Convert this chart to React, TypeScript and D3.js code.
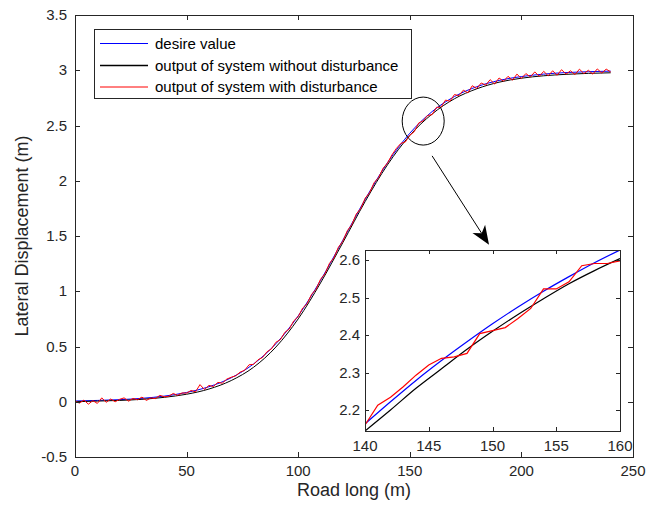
import React from "react";
import * as d3 from "d3";

// ---------- data ----------
// desired value, every 10 m
const desireX = [0, 10, 20, 30, 40, 50, 60, 70, 80, 90, 100, 110, 120, 130, 140, 150, 160, 170, 180, 190, 200, 210, 220, 230, 240];
const desireY = [0.007, 0.012, 0.019, 0.031, 0.051, 0.084, 0.136, 0.217, 0.342, 0.525, 0.777, 1.098, 1.462, 1.832, 2.163, 2.43, 2.626, 2.762, 2.851, 2.908, 2.943, 2.965, 2.979, 2.987, 2.992];
// output without disturbance, every 10 m
const cleanY = [0.0, 0.006, 0.012, 0.022, 0.04, 0.068, 0.115, 0.192, 0.312, 0.495, 0.75, 1.075, 1.44, 1.812, 2.144, 2.41, 2.604, 2.742, 2.832, 2.892, 2.928, 2.95, 2.963, 2.972, 2.977];
// output with disturbance, every 2 m
const noisyY = [
  0.005, -0.012, 0.015, -0.022, 0.01, -0.015, 0.035, -0.005, 0.025, 0.0,
  0.022, 0.035, 0.005, 0.03, 0.018, 0.042, 0.012, 0.035, 0.028, 0.058,
  0.045, 0.05, 0.075, 0.058, 0.08, 0.078, 0.102, 0.09, 0.155, 0.11,
  0.148, 0.138, 0.175, 0.168, 0.205, 0.222, 0.235, 0.268, 0.285, 0.335,
  0.338, 0.38, 0.4, 0.452, 0.478, 0.538, 0.562, 0.628, 0.658, 0.732,
  0.77, 0.848, 0.888, 0.972, 1.018, 1.108, 1.158, 1.252, 1.302, 1.398,
  1.452, 1.548, 1.602, 1.698, 1.748, 1.842, 1.892, 1.982, 2.028, 2.112,
  2.16, 2.234, 2.293, 2.338, 2.351, 2.412, 2.444, 2.523, 2.542, 2.591,
  2.598, 2.665, 2.665, 2.73, 2.72, 2.78, 2.77, 2.82, 2.795, 2.86,
  2.835, 2.885, 2.865, 2.915, 2.875, 2.93, 2.9, 2.945, 2.91, 2.965,
  2.925, 2.97, 2.94, 2.985, 2.945, 2.99, 2.95, 2.995, 2.955, 3.005,
  2.965, 2.995, 2.96, 3.01, 2.97, 3.0, 2.965, 3.012, 2.975, 3.01,
  2.985,
];
// inset (zoom 140..160 m)
const insetX2 = [140, 142, 144, 146, 148, 150, 152, 154, 156, 158, 160];
const insetDesire = [2.163, 2.222, 2.279, 2.332, 2.382, 2.43, 2.475, 2.517, 2.556, 2.593, 2.627];
const insetClean = [2.144, 2.2, 2.258, 2.31, 2.362, 2.41, 2.455, 2.497, 2.537, 2.572, 2.604];
const insetX1 = [140, 141, 142, 143, 144, 145, 146, 147, 148, 149, 150, 151, 152, 153, 154, 155, 156, 157, 158, 159, 160];
const insetNoisy = [2.16, 2.213, 2.234, 2.262, 2.293, 2.32, 2.338, 2.342, 2.351, 2.404, 2.412, 2.42, 2.444, 2.471, 2.523, 2.523, 2.542, 2.585, 2.591, 2.591, 2.598];

const xTicks = [0, 50, 100, 150, 200, 250];
const yTicks = [-0.5, 0, 0.5, 1, 1.5, 2, 2.5, 3, 3.5];
const insetXTicks = [140, 145, 150, 155, 160];
const insetYTicks = [2.2, 2.3, 2.4, 2.5, 2.6];
const legendLabels = ["desire value", "output of system without disturbance", "output of system with disturbance"];
const seriesColors = ["#0000ff", "#000000", "#ff0000"];

const W = 649;
const H = 514;
const FONT = "'Liberation Sans', Arial, Helvetica, sans-serif";
const AX = "#262626";

export default function App() {
  const x = d3.scaleLinear().domain([0, 250]).range([75, 633]);
  const y = d3.scaleLinear().domain([-0.5, 3.5]).range([457, 15]);
  const ix = d3.scaleLinear().domain([140, 160]).range([365, 620]);
  const iy = d3.scaleLinear().domain([2.144, 2.627]).range([431, 250]);

  const noisyX = noisyY.map((_, i) => i * 2);

  const mainLine = (xs: number[], ys: number[], curve: any) =>
    d3.line<number>().x((_, i) => x(xs[i])).y((v) => y(v)).curve(curve)(ys) || "";
  const insetLine = (xs: number[], ys: number[], curve: any) =>
    d3.line<number>().x((_, i) => ix(xs[i])).y((v) => iy(v)).curve(curve)(ys) || "";

  const [x0, x1] = x.range();
  const [yb, yt] = y.range();
  const [ix0, ix1] = ix.range();
  const [iyb, iyt] = iy.range();
  const tl = 5;
  const itl = 4;

  // annotation: ellipse around zoom region, arrow to inset
  const ellCx = x(156), ellCy = y(2.54);
  const arrowStart = [x(160), y(2.225)];
  const arrowEnd = [x(185.5), y(1.42)];
  const dx = arrowEnd[0] - arrowStart[0], dy = arrowEnd[1] - arrowStart[1];
  const len = Math.hypot(dx, dy);
  const ux = dx / len, uy = dy / len;
  const px = -uy, py = ux;
  const hl = 19, hw = 7.5;
  const tip = arrowEnd;
  const back = [tip[0] - ux * hl, tip[1] - uy * hl];
  const notch = [tip[0] - ux * hl * 0.72, tip[1] - uy * hl * 0.72];
  const headPath = `M${tip[0]},${tip[1]} L${back[0] + px * hw},${back[1] + py * hw} L${notch[0]},${notch[1]} L${back[0] - px * hw},${back[1] - py * hw} Z`;

  const legX = 94.5, legY = 29.5, legW = 317, legH = 69;
  const rowY = [43.5, 65.5, 87];

  return (
    <svg width={W} height={H} viewBox={`0 0 ${W} ${H}`} style={{ position: "absolute", left: 0, top: 0, background: "#fff" }} fontFamily={FONT}>
      <rect x={0} y={0} width={W} height={H} fill="#fff" />
      <defs>
        <clipPath id="mainClip"><rect x={x0} y={yt} width={x1 - x0} height={yb - yt} /></clipPath>
        <clipPath id="insetClip"><rect x={ix0} y={iyt} width={ix1 - ix0} height={iyb - iyt} /></clipPath>
      </defs>

      {/* main series */}
      <g clipPath="url(#mainClip)" fill="none" strokeWidth={1}>
        <path d={mainLine(desireX, desireY, d3.curveMonotoneX)} stroke={seriesColors[0]} />
        <path d={mainLine(desireX, cleanY, d3.curveMonotoneX)} stroke={seriesColors[1]} />
        <path d={mainLine(noisyX, noisyY, d3.curveLinear)} stroke={seriesColors[2]} />
      </g>

      {/* main axes box */}
      <g stroke={AX} strokeWidth={1} fill="none">
        <rect x={x0 + 0.5} y={yt + 0.5} width={x1 - x0} height={yb - yt} />
        {xTicks.map((t) => (
          <g key={"xt" + t}>
            <line x1={Math.round(x(t)) + 0.5} x2={Math.round(x(t)) + 0.5} y1={yb} y2={yb - tl} />
            <line x1={Math.round(x(t)) + 0.5} x2={Math.round(x(t)) + 0.5} y1={yt} y2={yt + tl} />
          </g>
        ))}
        {yTicks.map((t) => (
          <g key={"yt" + t}>
            <line x1={x0} x2={x0 + tl} y1={Math.round(y(t)) + 0.5} y2={Math.round(y(t)) + 0.5} />
            <line x1={x1} x2={x1 - tl} y1={Math.round(y(t)) + 0.5} y2={Math.round(y(t)) + 0.5} />
          </g>
        ))}
      </g>
      <g fill={AX} fontSize={15}>
        {xTicks.map((t) => (
          <text key={"xl" + t} x={x(t)} y={yb + 19} textAnchor="middle">{t}</text>
        ))}
        {yTicks.map((t) => (
          <text key={"yl" + t} x={x0 - 8} y={y(t) + 5} textAnchor="end">{t}</text>
        ))}
      </g>
      <text x={(x0 + x1) / 2} y={yb + 39} textAnchor="middle" fontSize={18} fill={AX}>Road long (m)</text>
      <text transform={`translate(28,${(yt + yb) / 2}) rotate(-90)`} textAnchor="middle" fontSize={18} fill={AX}>Lateral Displacement (m)</text>

      {/* legend */}
      <rect x={legX} y={legY} width={legW} height={legH} fill="#fff" stroke={AX} strokeWidth={1} />
      {legendLabels.map((lab, i) => (
        <g key={lab}>
          <line x1={100} x2={148} y1={rowY[i]} y2={rowY[i]} stroke={seriesColors[i]} strokeWidth={i === 1 ? 1.3 : 1} />
          <text x={155} y={rowY[i] + 5} fontSize={15} fill="#000">{lab}</text>
        </g>
      ))}

      {/* annotation */}
      <ellipse cx={ellCx} cy={ellCy} rx={21} ry={24} fill="none" stroke="#000" strokeWidth={1} />
      <line x1={arrowStart[0]} y1={arrowStart[1]} x2={notch[0]} y2={notch[1]} stroke="#000" strokeWidth={1} />
      <path d={headPath} fill="#000" />

      {/* inset */}
      <rect x={ix0} y={iyt} width={ix1 - ix0} height={iyb - iyt} fill="#fff" />
      <g clipPath="url(#insetClip)" fill="none" strokeWidth={1.2}>
        <path d={insetLine(insetX2, insetDesire, d3.curveMonotoneX)} stroke={seriesColors[0]} />
        <path d={insetLine(insetX2, insetClean, d3.curveMonotoneX)} stroke={seriesColors[1]} />
        <path d={insetLine(insetX1, insetNoisy, d3.curveLinear)} stroke={seriesColors[2]} />
      </g>
      <g stroke={AX} strokeWidth={1} fill="none">
        <rect x={ix0 + 0.5} y={iyt + 0.5} width={ix1 - ix0} height={iyb - iyt} />
        {insetXTicks.map((t) => (
          <g key={"ixt" + t}>
            <line x1={Math.round(ix(t)) + 0.5} x2={Math.round(ix(t)) + 0.5} y1={iyb} y2={iyb - itl} />
            <line x1={Math.round(ix(t)) + 0.5} x2={Math.round(ix(t)) + 0.5} y1={iyt} y2={iyt + itl} />
          </g>
        ))}
        {insetYTicks.map((t) => (
          <g key={"iyt" + t}>
            <line x1={ix0} x2={ix0 + itl} y1={Math.round(iy(t)) + 0.5} y2={Math.round(iy(t)) + 0.5} />
            <line x1={ix1} x2={ix1 - itl} y1={Math.round(iy(t)) + 0.5} y2={Math.round(iy(t)) + 0.5} />
          </g>
        ))}
      </g>
      <g fill={AX} fontSize={15}>
        {insetXTicks.map((t) => (
          <text key={"ixl" + t} x={ix(t)} y={iyb + 20} textAnchor="middle">{t}</text>
        ))}
        {insetYTicks.map((t) => (
          <text key={"iyl" + t} x={ix0 - 5} y={iy(t) + 5} textAnchor="end">{t.toFixed(1)}</text>
        ))}
      </g>
    </svg>
  );
}
